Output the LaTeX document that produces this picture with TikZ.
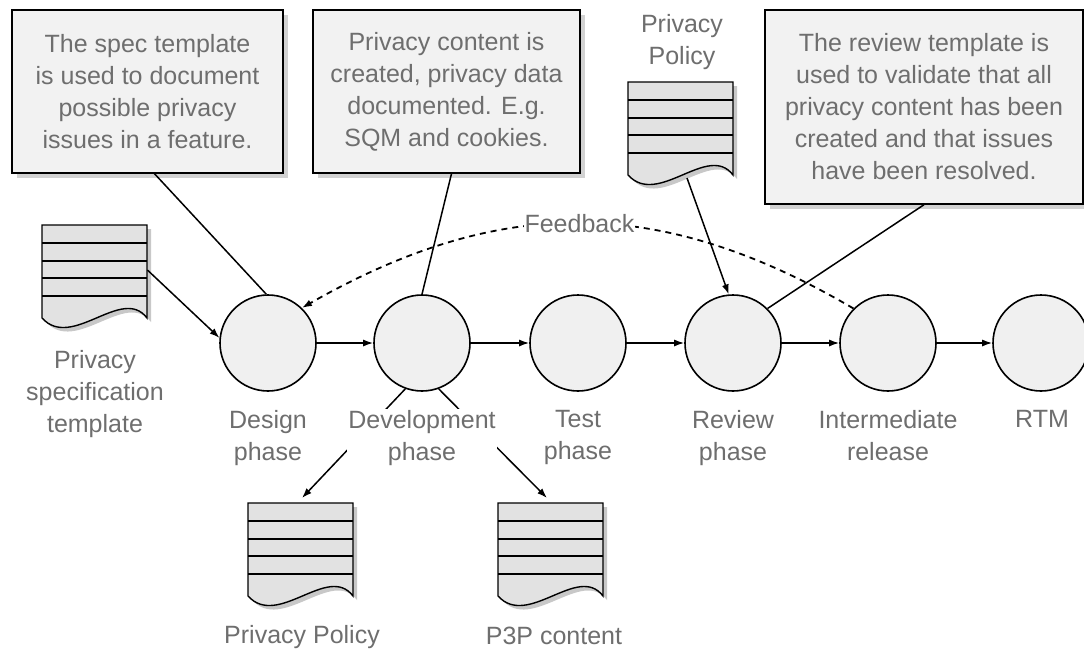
\documentclass[tikz,border=0pt]{standalone}
\usepackage{fontspec}
\setmainfont{Liberation Sans}
\usetikzlibrary{arrows.meta,shadows,calc}
\definecolor{txt}{HTML}{6E6E6E}
\definecolor{circfill}{HTML}{F0F0F0}
\definecolor{docfillc}{HTML}{E2E2E2}
\definecolor{boxfillc}{HTML}{F2F2F2}
\definecolor{shadowc}{HTML}{C8C8C8}
\tikzset{
  phase/.style={circle, draw=black, line width=1.6pt, fill=circfill, minimum size=96pt, inner sep=0pt},
  lbl/.style={text=txt, align=center, inner sep=0pt, font=\fontsize{25}{32}\selectfont},
  lblw/.style={lbl, fill=white, inner sep=1pt},
  callout/.style={draw=black, line width=1.4pt, fill=boxfillc, text=txt, align=center, inner sep=0pt,
    font=\fontsize{25}{32}\selectfont,
    drop shadow={shadow xshift=5pt, shadow yshift=-5pt, fill=black!35, opacity=0.5}},
  conn/.style={line width=1.5pt, black},
  arr/.style={conn, -{Latex[length=10pt,width=7pt]}},
  fb/.style={line width=1.8pt, black, dash pattern=on 6pt off 5pt, -{Latex[length=10pt,width=7pt]}},
  docedge/.style={line width=1.4pt, black},
}
\newcommand\docshape[3]{%
  \begin{scope}[shift={(#2,#3)}]
    \fill[shadowc] (4,4) -- (109,4) -- (109,97) .. controls (84,64) and (34,130) .. (4,97) -- cycle;
    \filldraw[docedge, fill=docfillc] (0,0) -- (105,0) -- (105,93) .. controls (80,60) and (30,126) .. (0,93) -- cycle;
    \foreach \yy in {18,36,53,71} \draw[docedge] (0,\yy) -- (105,\yy);
    \node[inner sep=0pt, minimum width=105pt, minimum height=103pt, anchor=north west] (#1) at (0,0) {};
  \end{scope}}
\begin{document}
\begin{tikzpicture}[x=1pt, y=-1pt]
\useasboundingbox[fill=white] (0,0) rectangle (1084,651);

% callouts
\node[callout, minimum width=271pt, minimum height=163pt] (box1) at (147.5,91.5)
  {The spec template\\is used to document\\possible privacy\\issues in a feature.};
\node[callout, minimum width=267pt, minimum height=163pt] (box2) at (446.5,91.5)
  {Privacy content is\\created, privacy data\\documented. E.g.\\SQM and cookies.};
\node[callout, minimum width=318pt, minimum height=194pt] (box3) at (924,107)
  {The review template is\\used to validate that all\\privacy content has been\\created and that issues\\have been resolved.};

% documents
\docshape{docspec}{42}{225}
\docshape{docpptop}{628}{82}
\docshape{docppbot}{248}{503}
\docshape{docp3p}{498}{503}

% phases
\node[phase] (design) at (268,343) {};
\node[phase] (dev) at (422,343) {};
\node[phase] (test) at (578,343) {};
\node[phase] (review) at (733,343) {};
\node[phase] (inter) at (888,343) {};
\node[phase] (rtm) at (1041,343) {};

% main flow
\draw[arr] (design) -- (dev);
\draw[arr] (dev) -- (test);
\draw[arr] (test) -- (review);
\draw[arr] (review) -- (inter);
\draw[arr] (inter) -- (rtm);

% callout leaders
\draw[conn] ([xshift=7pt]box1.south) -- (design.92);
\draw[conn] ([xshift=5pt]box2.south) -- (dev.north);
\draw[conn] (box3.south) -- (review.45);

% document arrows
\draw[arr] ([yshift=-45pt]docspec.north east) -- (design.174);
\coordinate (pptail) at ([xshift=59pt,yshift=-96pt]docpptop.north west);
\draw[arr] (pptail) -- (review.95);
\draw[arr] (dev.250) -- ([xshift=54pt,yshift=5pt]docppbot.north west);
\draw[arr] (dev.290) -- ([xshift=49pt,yshift=5pt]docp3p.north west);

% feedback
\draw[fb] (inter.135) .. controls (660,195) and (500,195) .. (design.46)
  node[pos=0.5, lblw] (fbl) {Feedback};

% labels
\node[lblw, anchor=north] (ldesign) at (268,409) {Design\\phase};
\node[lblw, anchor=north] (ldev) at (422,409) {Development\\phase};
\node[lblw, anchor=north] (ltest) at (578,409) {Test\\phase};
\node[lblw, anchor=north] (lreview) at (733,409) {Review\\phase};
\node[lblw, anchor=north] (linter) at (888,409) {Intermediate\\release};
\node[lblw, anchor=north] (lrtm) at (1042,409) {RTM};
\node[lbl, anchor=north] (lspec) at (95,350) {Privacy\\specification\\template};
\node[lbl, anchor=north] (lpptop) at (682,14) {Privacy\\Policy};
\node[lbl, anchor=north] (lppbot) at (302,625) {Privacy Policy};
\node[lbl, anchor=north] (lp3p) at (554,627) {P3P content};
\end{tikzpicture}
\end{document}
